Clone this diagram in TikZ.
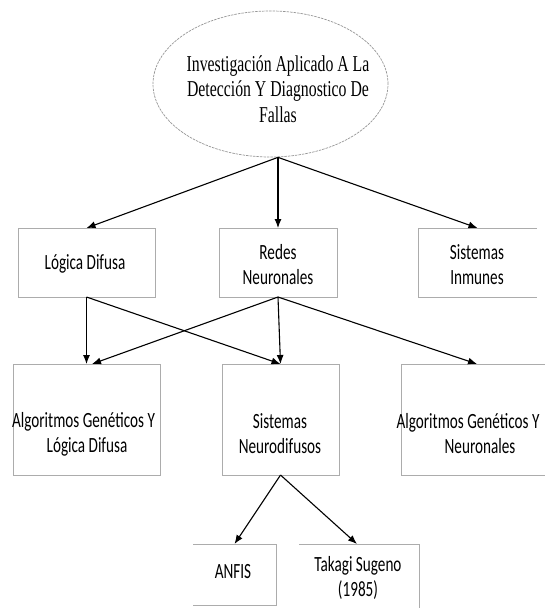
\documentclass[tikz,border=0pt]{standalone}
\usepackage{fontspec}
\usetikzlibrary{arrows.meta,shapes.geometric}
\newfontfamily\boxfont[FakeStretch=0.7]{Carlito}
\newfontfamily\titlefont[FakeStretch=0.695]{Liberation Serif}
\definecolor{boxgray}{RGB}{172,172,172}
\definecolor{ovalgray}{RGB}{150,150,150}
\begin{document}
\begin{tikzpicture}[x=1pt,y=-1pt,
  box/.style={rectangle,inner sep=0pt,outer sep=0pt},
  edge/.style={draw=boxgray,line width=0.8pt},
  label/.style={inner sep=0pt,align=center,font=\boxfont\fontsize{21.7}{25}\selectfont},
  link/.style={draw=black,line width=1.1pt,-{Latex[length=9pt,width=7pt]}}]
\useasboundingbox (0,0) rectangle (544,608);

% root oval
\node[ellipse,draw=ovalgray,line width=0.7pt,dash pattern=on 2.5pt off 1pt,
      inner sep=0pt,minimum width=235pt,minimum height=146pt] (inv) at (270.5,84) {};
\node[inner sep=0pt,align=center,font=\titlefont\fontsize{22.7}{25.5}\selectfont]
  (invT) at (278,89) {Investigación Aplicado A La\\Detección Y Diagnostico De\\Fallas};

% first level
\node[box,draw=boxgray,line width=0.8pt,minimum width=137pt,minimum height=69pt] (logica) at (86.5,262.5) {};
\node[label] (logicaT) at (85,264) {Lógica Difusa};
\node[box,draw=boxgray,line width=0.8pt,minimum width=118pt,minimum height=69pt] (redes) at (278,262.5) {};
\node[label] (redesT) at (278,265) {Redes\\Neuronales};
\node[box,minimum width=119pt,minimum height=69pt] (inmunes) at (477.5,262.5) {};
\draw[edge] (inmunes.north east) -- (inmunes.north west) -- (inmunes.south west) -- (inmunes.south east);
\node[label] (inmunesT) at (477,265) {Sistemas\\Inmunes};

% second level
\node[box,draw=boxgray,line width=0.8pt,minimum width=147pt,minimum height=111pt] (alg1) at (86.5,419.5) {};
\node[label] (alg1T) at (87,434) {Algoritmos Genéticos Y\hspace*{7pt}\\Lógica Difusa};
\node[box,draw=boxgray,line width=0.8pt,minimum width=117pt,minimum height=111pt] (neuro) at (280.5,419.5) {};
\node[label] (neuroT) at (280,434) {Sistemas\\Neurodifusos};
\node[box,minimum width=147pt,minimum height=111pt] (alg2) at (474.5,419.5) {};
\draw[edge] (alg2.north east) -- (alg2.north west) -- (alg2.south west) -- (alg2.south east);
\node[label] (alg2T) at (480,434) {Algoritmos Genéticos Y\hspace*{24pt}\\Neuronales};

% third level
\node[box,minimum width=83pt,minimum height=61pt] (anfis) at (234.5,574.5) {};
\draw[edge] (anfis.north west) -- (anfis.north east) -- (anfis.south east) -- (anfis.south west);
\node[label] (anfisT) at (233,572) {ANFIS};
\node[box,minimum width=120pt,minimum height=70pt] (takagi) at (359,579) {};
\draw[edge] (takagi.north west) -- (takagi.north east) -- (takagi.south east);
\node[label] (takagiT) at (358,578) {Takagi Sugeno\\(1985)};

% connectors
\coordinate (apex) at ([xshift=7.5pt]inv.south);
\draw[link] (apex) -- (logica.north);
\draw[link] (apex) -- (redes.north);
\draw[link] (apex) -- (inmunes.north);

\draw[link] (logica.south) -- (alg1.north);
\draw[link] (logica.south) -- (neuro.north);
\draw[link] (redes.south) -- ([xshift=5.5pt]alg1.north);
\draw[link] (redes.south) -- (neuro.north);
\draw[link] (redes.south) -- ([xshift=2.5pt]alg2.north);

\draw[link] (neuro.south) -- (anfis.north);
\draw[link] (neuro.south) -- ([xshift=-2pt]takagi.north);
\end{tikzpicture}
\end{document}
